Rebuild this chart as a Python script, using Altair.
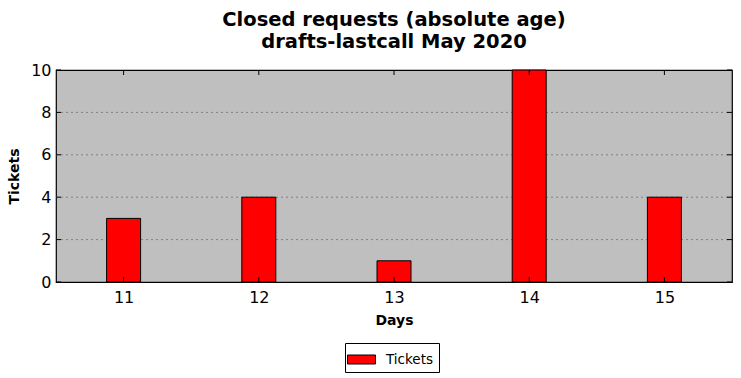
import altair as alt
import pandas as pd

days = [11, 12, 13, 14, 15]
tickets = [3, 4, 1, 10, 4]
y_ticks = [0, 2, 4, 6, 8, 10]
grid_vals = [2, 4, 6, 8]

df = pd.DataFrame({"day": days, "tickets": tickets, "series": ["Tickets"] * len(days)})
ydf = pd.DataFrame({"v": y_ticks})
gdf = pd.DataFrame({"v": grid_vals})

FONT = "DejaVu Sans"
xscale = alt.Scale(domain=[10.5, 15.5], nice=False, zero=False, padding=0)
yscale = alt.Scale(domain=[0, 10], nice=False, padding=0)

xaxis = alt.Axis(values=days, title="Days", grid=False, tickSize=0,
                 labelPadding=7, labelFontSize=16, labelFont=FONT, labelColor="black",
                 titleFont=FONT, titleFontSize=14, titleFontWeight="bold", titlePadding=8,
                 titleColor="black", domain=False, format="d")
yaxis = alt.Axis(values=y_ticks, title="Tickets", grid=False, tickSize=0,
                 labelPadding=5, labelFontSize=16, labelFont=FONT, labelColor="black",
                 titleFont=FONT, titleFontSize=14, titleFontWeight="bold", titlePadding=9,
                 titleColor="black", domain=False)

grid = alt.Chart(gdf).mark_rule(color="#808080", strokeDash=[2, 3], strokeWidth=1).encode(
    y=alt.Y("v:Q", scale=yscale, axis=yaxis, title="Tickets"),
    x=alt.value(0), x2=alt.value(676),
)

bars = alt.Chart(df).mark_bar(size=34, stroke="black", strokeWidth=1).encode(
    x=alt.X("day:Q", scale=xscale, axis=xaxis),
    y=alt.Y("tickets:Q", scale=yscale, axis=yaxis),
    color=alt.Color("series:N", scale=alt.Scale(domain=["Tickets"], range=["#ff0000"]),
                    legend=alt.Legend(title=None, orient="none", legendX=289, legendY=273,
                                      strokeColor="black", fillColor="white", padding=6,
                                      labelFont=FONT, labelFontSize=13.5, labelColor="black",
                                      symbolType="M-1.4,-0.45H1.4V0.45H-1.4Z", symbolSize=400,
                                      symbolStrokeColor="black", symbolStrokeWidth=1,
                                      symbolOpacity=1, labelOffset=14)),
)

xt_bottom = alt.Chart(df).mark_rule(color="black").encode(
    x=alt.X("day:Q", scale=xscale, axis=xaxis), y=alt.value(212), y2=alt.value(207))
xt_top = alt.Chart(df).mark_rule(color="black").encode(
    x=alt.X("day:Q", scale=xscale, axis=xaxis), y=alt.value(0), y2=alt.value(5))
yt_left = alt.Chart(ydf).mark_rule(color="black").encode(
    y=alt.Y("v:Q", scale=yscale, axis=yaxis), x=alt.value(0), x2=alt.value(5))
yt_right = alt.Chart(ydf).mark_rule(color="black").encode(
    y=alt.Y("v:Q", scale=yscale, axis=yaxis), x=alt.value(676), x2=alt.value(671))

chart = alt.layer(grid, bars, xt_bottom, xt_top, yt_left, yt_right).properties(
    width=676, height=212,
    background="white",
    title=alt.TitleParams(["Closed requests (absolute age)", "drafts-lastcall May 2020"],
                          font=FONT, fontSize=19.5, fontWeight="bold", color="black",
                          lineHeight=22, offset=10, anchor="middle"),
    padding={"left": 56, "top": 70, "right": 9, "bottom": 96},
    autosize=alt.AutoSizeParams(type="none"),
).configure_view(fill="#bfbfbf", stroke="black", strokeWidth=1.2)

chart.save("out.html", embed_options={"renderer": "svg", "actions": False})
